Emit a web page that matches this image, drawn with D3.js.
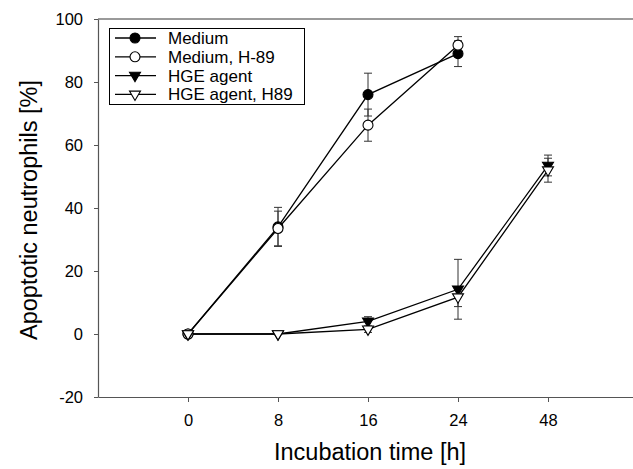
<!DOCTYPE html>
<html>
<head>
<meta charset="utf-8">
<script src="https://cdn.jsdelivr.net/npm/d3@7"></script>
<style>
  html, body { margin: 0; padding: 0; background: #fff; }
  svg { display: block; font-family: "Liberation Sans", Arial, sans-serif; }
</style>
</head>
<body>
<svg id="chart" width="633" height="469"></svg>
<script>
// Time points (categorical positions along the x axis)
const timeLabels = ["0", "8", "16", "24", "48"];

// Mean apoptotic neutrophils [%] per time point (null = not measured)
const medium      = [0, 34, 76, 89, null];
const mediumH89   = [0, 33.5, 66.3, 91.7, null];
const hge         = [0, 0, 4, 14.2, 53.5];
const hgeH89      = [0, 0, 1.5, 11.7, 52];

// Error bar half-widths
const mediumErr    = [0, 6.2, 6.8, 4.1, null];
const mediumH89Err = [0, 5.5, 5.1, 2.7, null];
const hgeErr       = [0, 0, 1.5, 9.5, 3.3];
const hgeH89Err    = [0, 0, 1, 3, 3.8];

const yTicks = [-20, 0, 20, 40, 60, 80, 100];

const series = [
  { name: "Medium",          values: medium,    err: mediumErr,    shape: "circle",   fill: "#000" },
  { name: "Medium, H-89",    values: mediumH89, err: mediumH89Err, shape: "circle",   fill: "#fff" },
  { name: "HGE agent",       values: hge,       err: hgeErr,       shape: "triangle", fill: "#000" },
  { name: "HGE agent, H89",  values: hgeH89,    err: hgeH89Err,    shape: "triangle", fill: "#fff" }
];

const svg = d3.select("#chart");
const plotLeft = 98, plotTop = 19, plotBottom = 397;

const x = d3.scaleLinear().domain([-1, 5]).range([plotLeft, 638]);
const y = d3.scaleLinear().domain([-20, 100]).range([plotBottom, plotTop]);

// Frame top line
svg.append("line")
  .attr("x1", plotLeft).attr("x2", 633).attr("y1", plotTop).attr("y2", plotTop)
  .attr("stroke", "#9a9a9a").attr("stroke-width", 2);

// Axes
const xAxis = svg.append("g")
  .attr("transform", `translate(0,${plotBottom})`)
  .call(d3.axisBottom(x)
    .tickValues(d3.range(timeLabels.length))
    .tickFormat(i => timeLabels[i])
    .tickSizeInner(5).tickSizeOuter(0).tickPadding(12));

const yAxis = svg.append("g")
  .attr("transform", `translate(${plotLeft},0)`)
  .call(d3.axisLeft(y).tickValues(yTicks).tickFormat(d => String(d))
    .tickSizeInner(4).tickSizeOuter(0).tickPadding(11));

[xAxis, yAxis].forEach(g => {
  g.select(".domain").attr("stroke", "#555").attr("stroke-width", 1.2);
  g.selectAll(".tick line").attr("stroke", "#555");
  g.selectAll(".tick text").attr("font-size", 16.5).attr("fill", "#000")
    .attr("font-family", "Liberation Sans, Arial, sans-serif");
});

// Axis titles
svg.append("text")
  .attr("x", 370).attr("y", 460)
  .attr("text-anchor", "middle")
  .attr("font-size", 23.5)
  .text("Incubation time [h]");

svg.append("text")
  .attr("transform", "translate(37,210) rotate(-90)")
  .attr("text-anchor", "middle")
  .attr("font-size", 23.5)
  .text("Apoptotic neutrophils [%]");

// Marker symbols
const circleSym = d3.symbol().type(d3.symbolCircle).size(78);
const triPath = r => `M${-r},${-r * 0.6}L${r},${-r * 0.6}L0,${r * 1.1}Z`;

function drawMarker(g, s, cx, cy) {
  if (s.shape === "circle") {
    g.append("path").attr("d", circleSym())
      .attr("transform", `translate(${cx},${cy})`)
      .attr("fill", s.fill).attr("stroke", "#000").attr("stroke-width", 1.1);
  } else {
    g.append("path").attr("d", triPath(5.5))
      .attr("transform", `translate(${cx},${cy})`)
      .attr("fill", s.fill).attr("stroke", "#000").attr("stroke-width", 1.1);
  }
}

const plot = svg.append("g");

// Error bars
series.forEach(s => {
  s.values.forEach((v, i) => {
    const e = s.err[i];
    if (v == null || !e) return;
    const cx = x(i), y1 = y(v + e), y2 = y(v - e);
    const g = plot.append("g").attr("stroke", "#333").attr("stroke-width", 1);
    g.append("line").attr("x1", cx).attr("x2", cx).attr("y1", y1).attr("y2", y2);
    g.append("line").attr("x1", cx - 4).attr("x2", cx + 4).attr("y1", y1).attr("y2", y1);
    g.append("line").attr("x1", cx - 4).attr("x2", cx + 4).attr("y1", y2).attr("y2", y2);
  });
});

// Lines
const line = d3.line()
  .defined(d => d.v != null)
  .x(d => x(d.i)).y(d => y(d.v));

series.forEach(s => {
  plot.append("path")
    .datum(s.values.map((v, i) => ({ v, i })))
    .attr("d", line)
    .attr("fill", "none").attr("stroke", "#000").attr("stroke-width", 1.3);
});

// Markers
series.forEach(s => {
  s.values.forEach((v, i) => {
    if (v == null) return;
    drawMarker(plot, s, x(i), y(v));
  });
});

// Legend
const lg = svg.append("g");
lg.append("rect")
  .attr("x", 109.5).attr("y", 28.5).attr("width", 195).attr("height", 76)
  .attr("fill", "#fff").attr("stroke", "#000").attr("stroke-width", 1);

series.forEach((s, k) => {
  const ry = 38 + k * 18.8;
  lg.append("line").attr("x1", 115).attr("x2", 156).attr("y1", ry).attr("y2", ry)
    .attr("stroke", "#000").attr("stroke-width", 1.3);
  drawMarker(lg, s, 135, ry);
  lg.append("text").attr("x", 168).attr("y", ry + 6)
    .attr("font-size", 17).text(s.name);
});
</script>
</body>
</html>
